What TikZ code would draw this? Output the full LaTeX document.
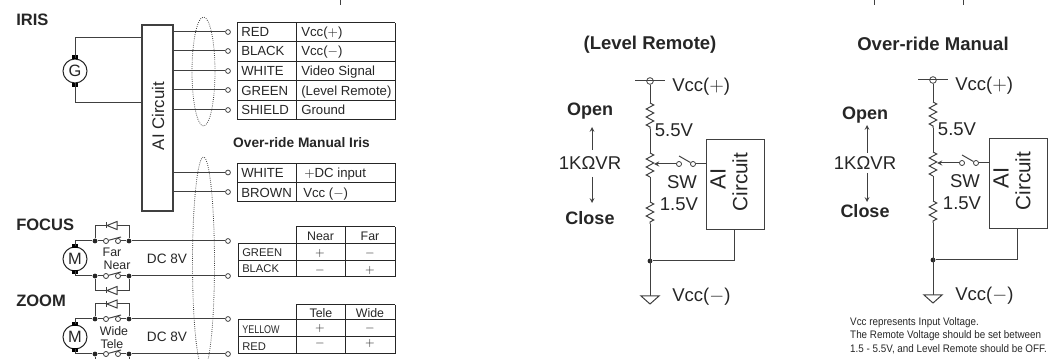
\documentclass[tikz,border=0pt]{standalone}
\usepackage{fontspec}
\setmainfont{Liberation Sans}
\usetikzlibrary{decorations.pathmorphing}

\definecolor{wirecol}{gray}{0.25}
\definecolor{inkcol}{gray}{0.15}

\tikzset{
  wire/.style={draw=wirecol,line width=0.75pt},
  termpt/.style={circle,draw=wirecol,line width=0.6pt,fill=white,minimum size=3.6pt,inner sep=0pt},
  swpt/.style={circle,draw=wirecol,line width=0.6pt,fill=white,minimum size=3.8pt,inner sep=0pt},
  dotpt/.style={circle,fill=inkcol,minimum size=3.6pt,inner sep=0pt},
  machine/.style={circle,draw=inkcol,line width=0.75pt,fill=white,minimum size=18pt,inner sep=0pt,text=inkcol,font=\fontsize{12.3}{14}\selectfont},
  zig/.style={wire,decorate,decoration={zigzag,amplitude=2.8pt,segment length=6pt}},
  head/.style={text=inkcol,inner sep=0pt,font=\fontsize{12.4}{14}\bfseries\selectfont},
  title/.style={text=inkcol,inner sep=0pt,font=\fontsize{13.9}{16}\bfseries\selectfont},
  cell/.style={text=inkcol,inner sep=0pt,anchor=west,text height=7.1pt,text depth=0.5pt,font=\fontsize{9.9}{12}\selectfont},
  small/.style={text=inkcol,inner sep=0pt,font=\fontsize{9.3}{11}\selectfont},
  tiny/.style={text=inkcol,inner sep=0pt,anchor=west,font=\fontsize{8.4}{10}\selectfont},
  big/.style={text=inkcol,inner sep=0pt,font=\fontsize{13.9}{16}\selectfont},
  tab/.style={draw=inkcol,line width=0.75pt}
}

\begin{document}
\begin{tikzpicture}[x=0.75pt,y=-0.75pt,>=stealth]
    \useasboundingbox (0,0) rectangle (1057,359);
    \clip (0,0) rectangle (1057,359);

    % stubs at the top edge
    \foreach \x in {340,874,963}
    \draw[wire] (\x,0) -- (\x,5);

    % iris
    \node[head,anchor=west] (iris) at (16,20) {IRIS};
    \node[draw=wirecol,line width=1pt,minimum width=23.25pt,minimum height=139.5pt,inner sep=0pt] (aibox) at (157.5,118) {};
    \node[rotate=90,text=inkcol,font=\fontsize{12.6}{14}\selectfont] (ailabel) at (158,116) {AI Circuit};
    \node[machine] (gen) at (75,71) {G};
    \fill[black] (72,55) rectangle (78,59);
    \fill[black] (72,83) rectangle (78,87);
    \draw[wire] (gen.north) |- (aibox.west |- 0,38);
    \draw[wire] (gen.south) |- (aibox.west |- 0,103);

    \foreach \n/\yy in {a/32,b/51,c/71,d/90,e/110,f/172.5,g/192} {
      \node[termpt] (term\n) at (228,\yy) {};
      \draw[wire] (aibox.east |- term\n) -- (term\n);
    }

    \draw[wirecol,line width=0.6pt,densely dotted] (203.5,71.5) ellipse [x radius=11.5,y radius=54.5];
    \draw[wirecol,line width=0.6pt,densely dotted] (203.5,263) ellipse [x radius=11,y radius=106];

    % tables of the iris
    \foreach \yy in {23,42,61.5,81,100.5,120,163.5,183,202}
    \draw[tab] (237,\yy) -- (395,\yy);
    \foreach \x in {237,296,395} {
      \draw[tab] (\x,23) -- (\x,120);
      \draw[tab] (\x,163.5) -- (\x,202);
    }
    \foreach \n/\yy/\colname/\signal in {
      a/32.5/RED/Vcc($+$),
      b/51.5/BLACK/Vcc($-$),
      c/71.5/WHITE/Video Signal,
      d/91/GREEN/(Level Remote),
      e/110.5/SHIELD/Ground} {
      \node[cell] (col\n) at (241,\yy) {\colname};
      \node[cell] (sig\n) at (301,\yy) {\signal};
    }
    \node[text=inkcol,inner sep=0pt,font=\fontsize{10.3}{12}\bfseries\selectfont] (manual) at (301.5,143) {Over-ride Manual Iris};
    \node[cell] (colf) at (241,173.5) {WHITE};
    \node[cell] (sigf) at (304,173.5) {$+$DC input};
    \node[cell] (colg) at (241,193) {BROWN};
    \node[cell] (sigg) at (303,193) {Vcc ($-$)};

    % focus and zoom drives
    \node[head,anchor=west] (focus) at (16,225) {FOCUS};
    \node[head,anchor=west] (zoom) at (16,301) {ZOOM};
    \foreach \n/\ym/\yt/\yw/\lt/\lw/\txa/\xa/\ya/\txb/\xb/\yc in {
      p/259/241/276/225.5/290.5/Far/112/252/Near/117/265,
      q/337/319/354/304/369/Wide/114/331/Tele/112/344} {
      \node[machine] (mot\n) at (75,\ym) {M};
      \fill[black] (72,\ym-15) rectangle (78,\ym-11);
      \fill[black] (72,\ym+11) rectangle (78,\ym+15);
      \foreach \m/\yr/\yl/\anch in {1/\yt/\lt/north,2/\yw/\lw/south} {
        \node[dotpt] (dl\n\m) at (95,\yr) {};
        \node[dotpt] (dr\n\m) at (129,\yr) {};
        \node[swpt] (sl\n\m) at (106,\yr) {};
        \node[swpt] (sr\n\m) at (118,\yr) {};
        \node[termpt] (tm\n\m) at (228,\yr) {};
        \draw[wire] (mot\n.\anch) |- (dl\n\m);
        \draw[wire] (dl\n\m) -- (sl\n\m);
        \draw[wire] (sr\n\m) -- (dr\n\m) -- (tm\n\m);
        \draw[wire] (sl\n\m) -- ++(15,-4);
        \draw[wire] (dl\n\m) |- (dr\n\m |- 0,\yl) -- (dr\n\m);
        \draw[wire,fill=white] (107,\yl) -- ++(10,-4) -- ++(0,8) -- cycle;
        \draw[wire] (106,\yl-3) -- (106,\yl+3);
      }
      \node[small] (upper\n) at (\xa,\ya) {\txa};
      \node[small] (lower\n) at (\xb,\yc) {\txb};
      \node[text=inkcol,inner sep=0pt,font=\fontsize{10.2}{12}\selectfont] (volt\n) at (167,\ym) {DC 8V};
    }

    % tables of the drives
    \foreach \yy/\x in {227/296,244/238,261/238,277/238,305/296,320/238,337/238,354/238}
    \draw[tab] (\x,\yy) -- (395,\yy);
    \foreach \x/\yy/\yz in {238/244/277,296/227/277,345/227/277,395/227/277,238/320/354,296/305/354,345/305/354,395/305/354}
    \draw[tab] (\x,\yy) -- (\x,\yz);

    \node[small] (near) at (320.5,236) {Near};
    \node[small] (far) at (370,236) {Far};
    \node[small] (tele) at (321,313.5) {Tele};
    \node[small] (wide) at (370,313.5) {Wide};
    \node[tiny] (green) at (242,252.5) {GREEN};
    \node[tiny] (black) at (242,269) {BLACK};
    \node[tiny,xscale=0.8,anchor=center] (yellow) at (261,329.5) {YELLOW};
    \node[tiny] (red) at (242,346.5) {RED};
    \foreach \x/\yy/\sign in {320/254/+,370/254/-,320/271/-,370/271/+,320/329/+,370/329/-,320/344/-,370/344/+}
    \node[small] at (\x,\yy) {$\sign$};

    % the two level circuits
    \foreach \name/\px/\py/\heading in {lr/0/0/(Level Remote),om/283/-1/Over-ride Manual} {
      \begin{scope}[shift={(\px,\py)}]
        \node[title] (\name-title) at (650,45) {\heading};
        \node[circle,draw=wirecol,line width=0.6pt,minimum size=5pt,inner sep=0pt] (\name-top) at (650,81) {};
        \draw[wire] (635,81) -- (665,81);
        \node[big,anchor=west] (\name-vp) at (672,87) {Vcc($+$)};
        \node[big,anchor=west] (\name-vm) at (672,297) {Vcc($-$)};
        \coordinate (\name-ra) at (650,103);
        \coordinate (\name-rb) at (650,129);
        \coordinate (\name-pa) at (650,153);
        \coordinate (\name-pb) at (650,177);
        \coordinate (\name-rc) at (650,202);
        \coordinate (\name-rd) at (650,224);
        \coordinate (\name-gnd) at (650,296);
        \coordinate (\name-tap) at (654,164);
        \draw[wire] (\name-top) -- (\name-ra);
        \draw[zig] (\name-ra) -- (\name-rb);
        \draw[wire] (\name-rb) -- (\name-pa);
        \draw[zig] (\name-pa) -- (\name-pb);
        \draw[wire] (\name-pb) -- (\name-rc);
        \draw[zig] (\name-rc) -- (\name-rd);
        \node[dotpt] (\name-dot) at (650,261) {};
        \draw[wire] (\name-rd) -- (\name-gnd);
        \draw[wire,fill=white] (\name-gnd) -- ++(-9,0) -- ++(9,8) -- ++(9,-8) -- cycle;

        \node[draw=wirecol,line width=0.75pt,minimum width=43.5pt,minimum height=67.5pt,inner sep=0pt] (\name-box) at (735,185) {};
        \node[rotate=90,text=inkcol,inner sep=0pt,font=\fontsize{16.5}{18}\selectfont] (\name-ai) at (718,179) {AI};
        \node[rotate=90,text=inkcol,inner sep=0pt,font=\fontsize{15.5}{18}\selectfont] (\name-circuit) at (740,182) {Circuit};
        \draw[wire] (\name-dot) -| (\name-box.south -| 734,0);

        \node[swpt] (\name-swa) at (679,164) {};
        \node[swpt] (\name-swb) at (693,164) {};
        \draw[wire,->] (\name-swa) -- (\name-tap);
        \draw[wire] (\name-swb) -- (\name-box.west |- \name-swb);
        \draw[wire] (\name-swb) -- ++(-14,-8);

        \node[big] (\name-upper) at (674,130) {5.5V};
        \node[big] (\name-sw) at (682,182) {SW};
        \node[big] (\name-lower) at (679,204) {1.5V};
      \end{scope}
    }

    % open and close
    \foreach \name/\x/\yopen/\yclose/\ya/\yb/\yc/\yd in {lr/590/111/218/150/127/177/203,om/865/115/211/153/125/173/202} {
      \node[title,font=\fontsize{13.5}{16}\bfseries\selectfont] (\name-open) at (\x,\yopen) {Open};
      \node[big] (\name-vr) at (\x,163) {1KΩVR};
      \node[title,font=\fontsize{13.5}{16}\bfseries\selectfont] (\name-close) at (\x,\yclose) {Close};
      \draw[wire,line width=0.6pt,->] (\x+2,\ya) -- (\x+2,\yb);
      \draw[wire,line width=0.6pt,->] (\x+2,\yc) -- (\x+2,\yd);
    }

    \node[text=inkcol,inner sep=0pt,anchor=north west,align=left,xscale=0.9,font=\fontsize{8.2}{10.3}\selectfont] (note) at (850,317) {Vcc represents Input Voltage.\\The Remote Voltage should be set between\\1.5 - 5.5V, and Level Remote should be OFF.};

\end{tikzpicture}
\end{document}
